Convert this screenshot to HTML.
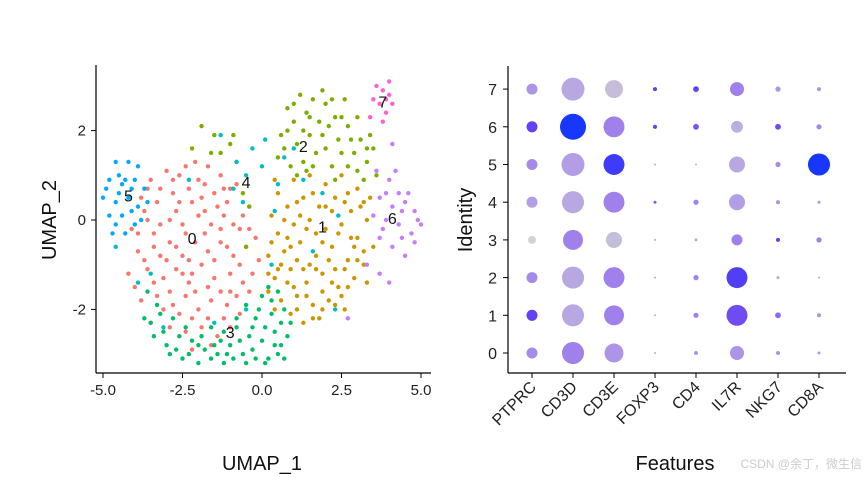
<!DOCTYPE html>
<html><head><meta charset="utf-8"><style>
body{margin:0;background:#fff;}
svg{display:block;font-family:"Liberation Sans",sans-serif;}
</style></head><body>
<svg id="c" width="865" height="478" viewBox="0 0 865 478"></svg>
<script>
// ---------- UMAP data ----------
const clusterColors=["#F8766D","#CD9600","#7CAE00","#00BE67","#00BFC4","#00A9FF","#C77CFF","#FF61CC"];
const cluster0="-3.5,0.9 -3.0,1.1 -2.6,1.0 -2.1,1.3 -1.7,1.2 -1.3,1.0 -3.8,0.5 -3.3,0.4 -2.8,0.6 -2.3,0.7 -1.9,0.5 -1.5,0.6 -1.1,0.4 -0.8,0.8 -4.1,-0.2 -3.6,0.0 -3.2,-0.1 -2.7,0.2 -2.4,-0.3 -2.0,0.1 -1.6,-0.1 -1.2,0.1 -0.7,-0.2 -0.4,0.3 -3.9,-0.7 -3.4,-0.6 -2.9,-0.5 -2.5,-0.8 -2.1,-0.5 -1.7,-0.7 -1.3,-0.5 -0.9,-0.8 -0.5,-0.6 -0.1,-0.9 -4.2,-1.2 -3.6,-1.1 -3.1,-1.3 -2.7,-1.1 -2.3,-1.4 -1.9,-1.0 -1.5,-1.3 -1.0,-1.2 -0.6,-1.4 -3.8,-1.8 -3.3,-1.7 -2.8,-1.9 -2.4,-1.7 -2.0,-2.0 -1.6,-1.8 -1.1,-1.9 -0.7,-2.1 -3.5,-2.3 -2.9,-2.4 -2.4,-2.5 -1.9,-2.4 -1.4,-2.6 -2.2,-2.9 -1.2,-2.2 -2.6,0.4 -1.4,0.3 -0.9,-0.1 -3.0,-0.9 -2.2,-1.2 -1.7,-1.5 -0.3,-1.2 -3.2,0.7 -2.0,0.9 -1.0,-1.6 -4.0,-1.5 -0.2,-0.4 -3.7,0.2 -3.4,-0.3 -2.9,0.0 -2.5,-0.1 -2.2,0.4 -1.8,0.2 -1.3,-0.2 -1.0,0.7 -0.6,0.1 -3.7,-0.9 -3.2,-0.8 -2.7,-0.6 -2.3,-0.9 -1.8,-0.3 -1.5,-0.9 -1.1,-0.6 -0.7,-1.0 -0.4,-0.2 -3.4,-1.4 -2.9,-1.6 -2.5,-1.2 -2.1,-1.6 -1.3,-1.6 -0.8,-1.7 -3.1,-2.0 -2.6,-2.1 -2.2,-2.2 -1.7,-2.2 -1.0,-2.4 -2.8,0.9 -2.4,1.2 -1.8,0.8 -1.2,0.7 -3.6,0.7 -3.9,-0.3 -1.6,-2.8 -0.4,-1.6";
const cluster1="0.5,0.6 1.0,0.9 1.5,1.0 2.0,0.8 2.5,1.0 3.0,0.7 3.4,0.5 0.3,0.1 0.8,0.3 1.3,0.5 1.8,0.3 2.3,0.5 2.8,0.2 3.3,0.0 0.5,-0.3 1.0,-0.1 1.5,0.0 2.0,-0.2 2.5,-0.1 3.0,-0.4 3.5,-0.6 0.2,-0.8 0.7,-0.7 1.2,-0.5 1.7,-0.8 2.2,-0.6 2.7,-0.9 3.2,-1.0 0.4,-1.3 0.9,-1.1 1.4,-1.4 1.9,-1.2 2.4,-1.5 2.9,-1.3 0.6,-1.8 1.1,-1.7 1.6,-1.9 2.1,-1.8 2.6,-2.0 1.3,-2.3 0.2,-1.6 0.9,-2.1 1.8,-2.2 2.0,0.3 1.2,0.1 2.6,0.4 0.8,-0.4 1.5,-1.0 2.9,-0.6 3.3,-1.4 1.7,-0.3 2.3,-1.1 0.4,0.9 1.9,-1.6 1.0,-1.5 2.5,-1.7 3.1,0.3 0.6,-1.0 0.7,0.0 1.1,0.4 1.6,0.6 2.2,0.2 2.7,0.6 3.2,0.4 0.3,-0.5 0.9,-0.6 1.4,-0.2 1.9,-0.5 2.4,-0.3 2.8,-0.4 3.2,-0.7 0.5,-1.1 1.1,-0.9 1.7,-1.1 2.1,-0.9 2.6,-1.1 3.0,-0.9 0.8,-1.4 1.3,-1.1 2.2,-1.4 2.7,-1.5 0.4,-2.0 1.4,-1.7 1.9,-2.0 2.3,-1.9 1.1,-2.0 0.2,-1.2 1.6,-2.2";
const cluster2="0.8,2.5 1.2,2.8 1.6,2.7 2.0,2.6 1.0,2.2 1.4,2.4 1.8,2.2 2.3,2.3 2.7,2.1 3.1,1.8 0.6,1.9 1.1,1.7 1.5,1.9 2.0,1.6 2.4,1.8 2.9,1.5 3.3,1.3 3.6,1.0 0.5,1.4 1.3,1.3 2.2,1.2 2.7,1.2 3.2,0.9 1.7,1.5 1.9,2.9 2.6,2.7 0.9,1.2 3.5,1.6 -1.9,2.1 -1.5,1.9 -2.2,1.6 -1.3,1.5 -0.8,1.3 -1.0,1.7 -0.6,0.6 -0.4,0.3 -0.5,-0.6 2.3,0.9 1.4,1.1 3.0,2.3 1.0,2.6 1.5,2.3 2.2,2.7 2.5,2.3 0.8,2.0 1.3,2.0 1.9,1.9 2.8,1.8 3.3,1.6 0.7,1.6 1.6,1.2 2.5,1.5 3.0,1.1 3.4,1.9 2.1,2.1 1.1,1.0 -1.6,1.5 -0.9,1.9";
const cluster3="-3.6,-1.6 -3.2,-2.1 -2.8,-2.2 -3.4,-2.6 -3.0,-2.8 -2.6,-2.6 -2.2,-2.7 -1.8,-2.9 -1.4,-3.0 -1.0,-2.8 -0.6,-3.0 -0.2,-3.1 0.2,-3.1 0.5,-3.0 -2.5,-3.1 -2.0,-3.2 -1.2,-3.2 -0.4,-2.6 0.0,-2.7 0.4,-2.5 0.8,-2.6 -0.8,-2.4 -0.2,-2.2 0.3,-2.1 0.7,-2.0 -0.5,-1.9 0.0,-1.7 0.5,-1.6 -1.6,-2.4 -3.3,-1.9 -0.9,-3.1 0.1,-3.2 -2.4,-2.4 -1.2,-2.5 0.9,-2.3 -3.7,-2.2 -0.3,-2.9 0.6,-2.8 -1.6,-3.1 -2.9,-3.0 -3.5,-2.3 -3.1,-2.5 -2.7,-2.9 -2.3,-3.0 -1.9,-2.6 -1.5,-2.8 -1.1,-3.0 -0.7,-2.7 -0.3,-2.4 0.1,-2.4 0.4,-2.8 0.7,-3.1 -0.1,-2.0 0.3,-1.8 0.6,-2.3 -0.8,-2.2 -2.0,-2.8 -1.3,-2.7 -0.5,-3.2 0.2,-1.5";
const cluster4="-0.8,1.3 -0.5,1.0 -0.9,0.7 -0.3,1.6 0.1,1.8 0.5,0.8 1.0,1.6 1.3,0.9 1.9,0.6 0.4,0.2 -0.6,0.4 0.0,1.2 -1.3,1.9 2.4,0.1 1.6,-0.7 -3.5,-1.2 -0.5,-2.0 2.3,-2.0 -3.9,-1.4 -1.5,-2.3 0.3,-1.0 -4.6,-0.6 -3.1,-2.4 0.7,1.4 -2.3,0.9";
const cluster5="-4.6,1.3 -4.2,1.3 -3.9,1.2 -4.8,0.9 -4.4,0.8 -4.0,0.9 -3.7,0.7 -5.0,0.5 -4.6,0.4 -4.2,0.5 -3.9,0.3 -4.8,0.1 -4.4,0.1 -4.0,-0.1 -4.7,-0.3 -4.3,-0.3 -4.5,1.0 -4.1,0.2 -3.6,0.4 -4.9,0.7 -4.3,0.9 -3.8,0.0 -4.5,0.6 -4.1,0.7 -4.6,-0.1";
const cluster6="3.6,1.1 4.0,0.9 4.3,0.6 3.7,0.5 4.1,0.3 4.5,0.4 4.8,0.2 3.5,0.1 3.9,0.0 4.3,-0.1 4.7,-0.3 5.0,-0.1 3.7,-0.4 4.1,-0.6 4.5,-0.8 4.9,0.0 4.6,0.6 4.2,1.1 3.3,-1.0 3.7,-1.2 4.0,-1.4 4.4,-0.4 3.9,0.6 2.7,-2.2 4.1,1.7 4.4,0.2 4.8,-0.5 3.8,-0.2";
const cluster7="3.6,3.0 3.8,2.9 4.0,2.8 3.7,2.6 4.1,2.6 3.5,2.7 3.9,2.4 3.4,2.3 3.8,2.2 4.0,3.1 3.9,2.7";
const clusterPoints=[cluster0,cluster1,cluster2,cluster3,cluster4,cluster5,cluster6,cluster7];
const clusterLabelPos=[[-2.2,-0.4],[1.9,-0.15],[1.3,1.65],[-1.0,-2.5],[-0.5,0.85],[-4.2,0.55],[4.1,0.05],[3.8,2.65]];
const umapXTicks=[-5,-2.5,0,2.5,5];
const umapYTicks=[-2,0,2];

// ---------- Dot plot data ----------
const features=["PTPRC","CD3D","CD3E","FOXP3","CD4","IL7R","NKG7","CD8A"];
const identities=[0,1,2,3,4,5,6,7];
const pctPTPRC=[18,18,18,9.5,18,18,18,18];
const pctCD3D=[72,72,72,59,72,78,100,78];
const pctCD3E=[53,59,65,38,65,65,65,48];
const pctFOXP3=[0.6,0.6,0.6,0.6,1.3,0.6,2.4,2.4];
const pctCD4=[2.4,4,4,1.3,4,0.6,5,5];
const pctIL7R=[29,65,65,18,38,38,21,29];
const pctNKG7=[2.4,5,1.3,2.4,2.4,4,5,4];
const pctCD8A=[1.3,2.4,0.6,4,1.3,72,4,2.4];
const avgPTPRC=[0.45,0.8,0.45,0,0.35,0.45,0.8,0.4];
const avgCD3D=[0.5,0.3,0.3,0.5,0.3,0.35,1.0,0.3];
const avgCD3E=[0.4,0.5,0.5,0.15,0.5,0.9,0.5,0.15];
const avgFOXP3=[0.3,0.3,0.3,0.3,0.7,0.3,0.8,0.8];
const avgCD4=[0.4,0.5,0.5,0.3,0.5,0.2,0.7,0.8];
const avgIL7R=[0.4,0.75,0.85,0.5,0.35,0.3,0.25,0.5];
const avgNKG7=[0.4,0.6,0.3,0.8,0.4,0.45,0.75,0.4];
const avgCD8A=[0.4,0.4,0.3,0.5,0.4,1.0,0.45,0.4];
const pctAll=[pctPTPRC,pctCD3D,pctCD3E,pctFOXP3,pctCD4,pctIL7R,pctNKG7,pctCD8A];
const avgAll=[avgPTPRC,avgCD3D,avgCD3E,avgFOXP3,avgCD4,avgIL7R,avgNKG7,avgCD8A];

const NS="http://www.w3.org/2000/svg";
const svg=document.getElementById('c');
function mk(tag,attrs,parent,text){const e=document.createElementNS(NS,tag);for(const k in attrs)e.setAttribute(k,attrs[k]);if(text!==undefined)e.textContent=text;(parent||svg).appendChild(e);return e;}

// ---------- UMAP panel ----------
const ux=v=>262+v*31.8, uy=v=>220-v*44.7;
const gU=mk('g',{});


clusterPoints.forEach((s,ci)=>{
  const g=mk('g',{},gU);
  
  
  s.split(' ').forEach(p=>{const [a,b]=p.split(',').map(Number);
    const c=mk('circle',{cx:ux(a),cy:uy(b),r:2.2,fill:clusterColors[ci]},g);
    
    });
});
clusterLabelPos.forEach((p,i)=>{const t=mk('text',{x:ux(p[0]),y:uy(p[1])+6,'font-size':16,'text-anchor':'middle',fill:'#111'},gU,String(i));
  
  });
let ax=mk('line',{x1:96,y1:65,x2:96,y2:373,stroke:'#000','stroke-width':1.2},gU);

ax=mk('line',{x1:96,y1:373,x2:431,y2:373,stroke:'#000','stroke-width':1.2},gU);

umapXTicks.forEach(v=>{mk('line',{x1:ux(v),y1:373,x2:ux(v),y2:378,stroke:'#000'},gU);
  const t=mk('text',{x:ux(v),y:395,'font-size':15,'text-anchor':'middle',fill:'#222'},gU,v.toFixed(1));
  });
umapYTicks.forEach(v=>{mk('line',{x1:91,y1:uy(v),x2:96,y2:uy(v),stroke:'#000'},gU);
  const t=mk('text',{x:86,y:uy(v)+5,'font-size':15,'text-anchor':'end',fill:'#222'},gU,String(v));
  });
let tt=mk('text',{x:262,y:470,'font-size':20,'text-anchor':'middle',fill:'#111'},gU,'UMAP_1');

tt=mk('text',{x:56,y:220,'font-size':20,'text-anchor':'middle',fill:'#111',transform:'rotate(-90 56 220)'},gU,'UMAP_2');


// ---------- Dot plot panel ----------
const dx=i=>532+i*41, dy=v=>353-v*37.7;
const stops=[[0,[211,211,211]],[0.3,[185,167,226]],[0.5,[160,128,235]],[0.8,[100,65,242]],[1,[23,55,255]]];
function col(v){for(let i=1;i<stops.length;i++){if(v<=stops[i][0]){const a=stops[i-1],b=stops[i],t=(v-a[0])/(b[0]-a[0]);
  return 'rgb('+a[1].map((c,k)=>Math.round(c+(b[1][k]-c)*t)).join(',')+')';}}return 'rgb(23,55,255)';}
const gD=mk('g',{});


features.forEach((f,fi)=>{identities.forEach((id,ii)=>{
  const r=13*Math.sqrt(pctAll[fi][ii]/100);
  const c=mk('circle',{cx:dx(fi),cy:dy(id),r:r,fill:col(avgAll[fi][ii])},gD);
  
  });});
ax=mk('line',{x1:508,y1:66,x2:508,y2:373,stroke:'#000','stroke-width':1.2},gD);

ax=mk('line',{x1:508,y1:373,x2:846,y2:373,stroke:'#000','stroke-width':1.2},gD);

identities.forEach(v=>{mk('line',{x1:503,y1:dy(v),x2:508,y2:dy(v),stroke:'#000'},gD);
  const t=mk('text',{x:497,y:dy(v)+6,'font-size':16,'text-anchor':'end',fill:'#222'},gD,String(v));
  });
features.forEach((f,i)=>{mk('line',{x1:dx(i),y1:373,x2:dx(i),y2:378,stroke:'#000'},gD);
  const x=dx(i)+5,y=388;
  const t=mk('text',{x:x,y:y,'font-size':16,'text-anchor':'end',fill:'#222',transform:'rotate(-45 '+x+' '+y+')'},gD,f);
  });
tt=mk('text',{x:675,y:470,'font-size':20,'text-anchor':'middle',fill:'#111'},gD,'Features');

tt=mk('text',{x:472,y:220,'font-size':20,'text-anchor':'middle',fill:'#111',transform:'rotate(-90 472 220)'},gD,'Identity');

tt=mk('text',{x:862,y:468,'font-size':12,'text-anchor':'end',fill:'#ccc'},svg,'CSDN @余丁，微生信');

</script>
</body></html>
